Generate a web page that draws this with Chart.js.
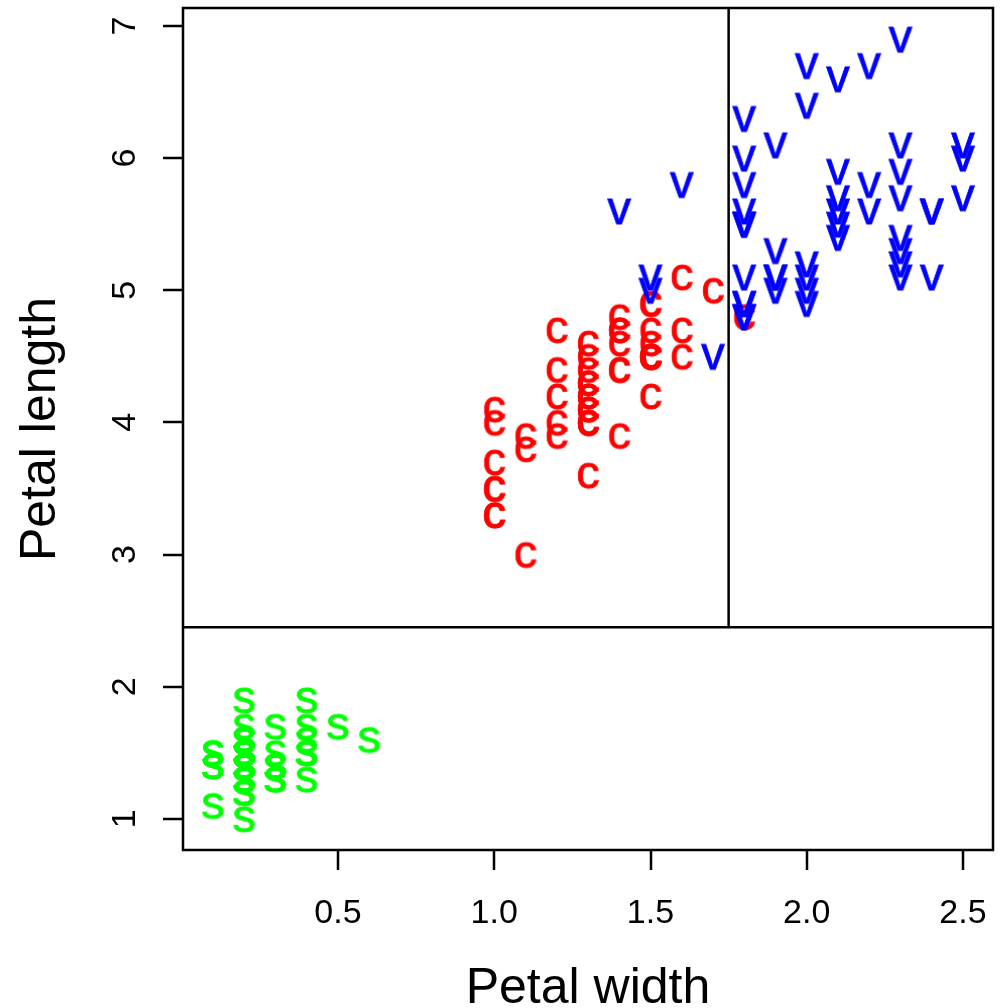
<!DOCTYPE html>
<html>
<head>
<meta charset="utf-8">
<script src="https://cdn.jsdelivr.net/npm/chart.js@4.4.1/dist/chart.umd.min.js"></script>
<style>
  html, body { margin: 0; padding: 0; background: #fff; }
  canvas { display: block; }
</style>
</head>
<body>
<canvas id="iris" width="1005" height="1008"></canvas>
<script>
// iris petal measurements, one pair of arrays per species
var setosaWidth = [
  0.2,0.2,0.2,0.2,0.2,0.4,0.3,0.2,0.2,0.1,
  0.2,0.2,0.1,0.1,0.2,0.4,0.4,0.3,0.3,0.3,
  0.2,0.4,0.2,0.5,0.2,0.2,0.4,0.2,0.2,0.2,
  0.2,0.4,0.1,0.2,0.2,0.2,0.2,0.1,0.2,0.2,
  0.3,0.3,0.2,0.6,0.4,0.3,0.2,0.2,0.2,0.2
];
var setosaLength = [
  1.4,1.4,1.3,1.5,1.4,1.7,1.4,1.5,1.4,1.5,
  1.5,1.6,1.4,1.1,1.2,1.5,1.3,1.4,1.7,1.5,
  1.7,1.5,1.0,1.7,1.9,1.6,1.6,1.5,1.4,1.6,
  1.6,1.5,1.5,1.4,1.5,1.2,1.3,1.4,1.3,1.5,
  1.3,1.3,1.3,1.6,1.9,1.4,1.6,1.4,1.5,1.4
];
var versicolorWidth = [
  1.4,1.5,1.5,1.3,1.5,1.3,1.6,1.0,1.3,1.4,
  1.0,1.5,1.0,1.4,1.3,1.4,1.5,1.0,1.5,1.1,
  1.8,1.3,1.5,1.2,1.3,1.4,1.4,1.7,1.5,1.0,
  1.1,1.0,1.2,1.6,1.5,1.6,1.5,1.3,1.3,1.3,
  1.2,1.4,1.2,1.0,1.3,1.2,1.3,1.3,1.1,1.3
];
var versicolorLength = [
  4.7,4.5,4.9,4.0,4.6,4.5,4.7,3.3,4.6,3.9,
  3.5,4.2,4.0,4.7,3.6,4.4,4.5,4.1,4.5,3.9,
  4.8,4.0,4.9,4.7,4.3,4.4,4.8,5.0,4.5,3.5,
  3.8,3.7,3.9,5.1,4.5,4.5,4.7,4.4,4.1,4.0,
  4.4,4.6,4.0,3.3,4.2,4.2,4.2,4.3,3.0,4.1
];
var virginicaWidth = [
  2.5,1.9,2.1,1.8,2.2,2.1,1.7,1.8,1.8,2.5,
  2.0,1.9,2.1,2.0,2.4,2.3,1.8,2.2,2.3,1.5,
  2.3,2.0,2.0,1.8,2.1,1.8,1.8,1.8,2.1,1.6,
  1.9,2.0,2.2,1.5,1.4,2.3,2.4,1.8,1.8,2.1,
  2.4,2.3,1.9,2.3,2.5,2.3,1.9,2.0,2.3,1.8
];
var virginicaLength = [
  6.0,5.1,5.9,5.6,5.8,6.6,4.5,6.3,5.8,6.1,
  5.1,5.3,5.5,5.0,5.1,5.3,5.5,6.7,6.9,5.0,
  5.7,4.9,6.7,4.9,5.7,6.0,4.8,4.9,5.6,5.8,
  6.1,6.4,5.6,5.1,5.6,6.1,5.6,5.5,4.8,5.4,
  5.6,5.1,5.1,5.9,5.7,5.2,5.0,5.2,5.4,5.1
];

// tree splits
var splitLength = 2.45;
var splitWidth = 1.75;

var xTicks = [0.5, 1.0, 1.5, 2.0, 2.5];
var xTickLabels = ['0.5', '1.0', '1.5', '2.0', '2.5'];
var yTicks = [1, 2, 3, 4, 5, 6, 7];
var yTickLabels = ['1', '2', '3', '4', '5', '6', '7'];

var FONT = '"Liberation Sans", Arial, Helvetica, sans-serif';
var markFont = '47px ' + FONT;
var LW = 2.5;

function zip(xs, ys) {
  var out = [];
  for (var i = 0; i < xs.length; i++) out.push({ x: xs[i], y: ys[i] });
  return out;
}

// axis limits padded by 4% like R
function padRange(arrs) {
  var all = [].concat.apply([], arrs);
  var lo = Math.min.apply(null, all), hi = Math.max.apply(null, all);
  var d = (hi - lo) * 0.04;
  return [lo - d, hi + d];
}
var xRange = padRange([setosaWidth, versicolorWidth, virginicaWidth]);
var yRange = padRange([setosaLength, versicolorLength, virginicaLength]);

// letter used as point marker
function glyph(ch, color) {
  var c = document.createElement('canvas');
  c.width = 60; c.height = 60;
  var g = c.getContext('2d');
  g.font = markFont;
  g.fillStyle = color;
  g.strokeStyle = color;
  g.lineWidth = 0.8;
  g.textAlign = 'left';
  g.textBaseline = 'alphabetic';
  var m = g.measureText(ch);
  var h = m.actualBoundingBoxAscent + m.actualBoundingBoxDescent;
  var x0 = (c.width - m.width) / 2, y0 = (c.height - h) / 2 + m.actualBoundingBoxAscent;
  g.fillText(ch, x0, y0);
  g.strokeText(ch, x0, y0);
  return c;
}

var rAxes = {
  id: 'rAxes',
  afterDraw: function(chart) {
    var ctx = chart.ctx, a = chart.chartArea;
    var xs = chart.scales.x, ys = chart.scales.y;
    ctx.save();
    ctx.strokeStyle = '#000';
    ctx.lineWidth = LW;
    ctx.strokeRect(a.left, a.top, a.right - a.left, a.bottom - a.top);

    ctx.beginPath();
    xTicks.forEach(function(v) {
      var px = Math.round(xs.getPixelForValue(v));
      ctx.moveTo(px, a.bottom); ctx.lineTo(px, a.bottom + 20);
    });
    yTicks.forEach(function(v) {
      var py = Math.round(ys.getPixelForValue(v));
      ctx.moveTo(a.left, py); ctx.lineTo(a.left - 20, py);
    });
    ctx.stroke();

    ctx.fillStyle = '#000';
    ctx.textAlign = 'center';
    ctx.textBaseline = 'alphabetic';
    ctx.font = '34px ' + FONT;
    xTicks.forEach(function(v, i) {
      ctx.fillText(xTickLabels[i], xs.getPixelForValue(v), 923);
    });
    yTicks.forEach(function(v, i) {
      ctx.save();
      ctx.translate(135, ys.getPixelForValue(v));
      ctx.rotate(-Math.PI / 2);
      ctx.fillText(yTickLabels[i], 0, 0);
      ctx.restore();
    });

    ctx.font = '50px ' + FONT;
    ctx.fillText('Petal width', (a.left + a.right) / 2, 1003);
    ctx.save();
    ctx.translate(55, (a.top + a.bottom) / 2);
    ctx.rotate(-Math.PI / 2);
    ctx.fillText('Petal length', 0, 0);
    ctx.restore();
    ctx.restore();
  }
};

function species(label, xs, ys, ch, color, order) {
  return {
    label: label,
    data: zip(xs, ys),
    pointStyle: glyph(ch, color),
    pointRadius: 3,
    pointHoverRadius: 3,
    order: order
  };
}

function splitLine(pts) {
  return {
    label: 'split',
    data: pts,
    showLine: true,
    borderColor: '#000',
    borderWidth: LW,
    pointRadius: 0,
    order: 0
  };
}

new Chart(document.getElementById('iris'), {
  type: 'scatter',
  data: {
    datasets: [
      splitLine([{ x: xRange[0], y: splitLength }, { x: xRange[1], y: splitLength }]),
      splitLine([{ x: splitWidth, y: splitLength }, { x: splitWidth, y: yRange[1] }]),
      species('virginica', virginicaWidth, virginicaLength, 'v', '#0000ff', 1),
      species('versicolor', versicolorWidth, versicolorLength, 'c', '#ff0000', 2),
      species('setosa', setosaWidth, setosaLength, 's', '#00ff00', 3)
    ]
  },
  options: {
    responsive: false,
    animation: false,
    devicePixelRatio: 1,
    layout: { padding: { left: 183, top: 8, right: 12, bottom: 158 } },
    scales: {
      x: { type: 'linear', min: xRange[0], max: xRange[1], display: false },
      y: { type: 'linear', min: yRange[0], max: yRange[1], display: false }
    },
    plugins: {
      legend: { display: false },
      tooltip: { enabled: false }
    }
  },
  plugins: [rAxes]
});
</script>
</body>
</html>
